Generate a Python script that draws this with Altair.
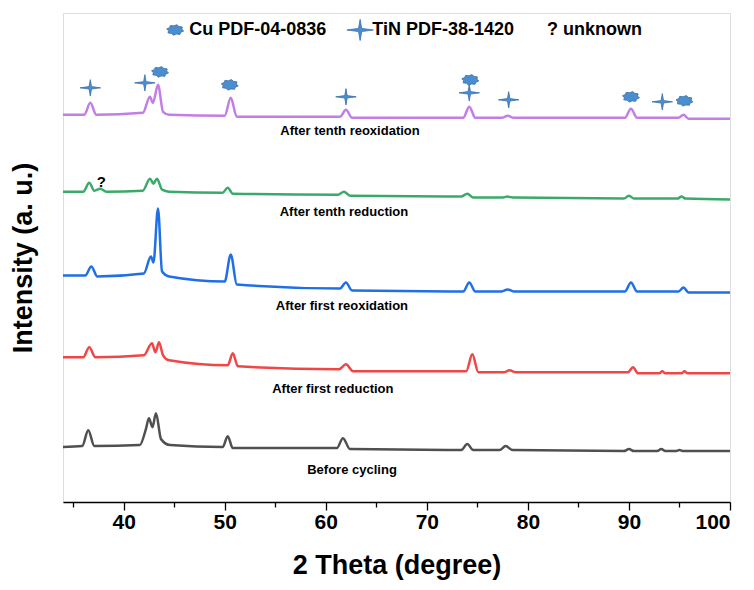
import altair as alt
import pandas as pd
import math

# ---------------- data ----------------
trace_names = ["Before cycling", "After first reduction", "After first reoxidation",
               "After tenth reduction", "After tenth reoxidation"]
trace_colors = ["#505050", "#f04646", "#1f6fe6", "#3aaa6a", "#c27ee6"]

x_before = [34, 35.9, 36.5, 37.1, 41.6, 42.2, 42.5, 42.85, 43.2, 43.7, 44.6, 49.8, 50.3, 50.8,
            61.1, 61.7, 62.4, 73.4, 74.0, 74.6, 77.2, 77.8, 78.5, 89.5, 90.0, 90.5,
            92.8, 93.2, 93.6, 94.6, 95.0, 95.4, 100]
i_before = [55, 56, 72, 56, 57, 73, 84, 75, 89, 63, 57, 55, 66, 54,
            54, 64, 53, 52, 58, 52, 52, 56, 52, 51, 53, 51,
            51, 53, 51, 51, 52, 51, 51]

x_red1 = [34, 36.0, 36.6, 37.2, 42.0, 42.8, 43.15, 43.5, 43.9, 44.5, 50.3, 50.8, 51.3,
          61.3, 62.0, 62.7, 73.9, 74.5, 75.1, 77.6, 78.2, 78.8, 89.9, 90.4, 90.9,
          93.0, 93.3, 93.6, 95.2, 95.5, 95.8, 100]
i_red1 = [145, 145, 155, 145, 147, 159, 150, 160, 147, 142, 137, 149, 136,
          133, 138, 131, 131, 148, 130, 130, 132, 130, 130, 135, 129,
          129, 131, 129, 129, 131, 129, 129]

x_reox1 = [34, 36.2, 36.8, 37.4, 42.0, 42.7, 42.95, 43.4, 43.8, 44.5, 50.0, 50.6, 51.2,
           61.4, 62.0, 62.6, 73.6, 74.2, 74.8, 77.4, 78.0, 78.6, 89.6, 90.2, 90.8,
           94.9, 95.4, 95.9, 100]
i_reox1 = [227, 227, 236, 226, 229, 246, 240, 294, 231, 226, 221, 248, 218,
           214, 220, 212, 211, 220, 211, 211, 213, 211, 211, 220, 211,
           211, 215, 210, 210]

x_red10 = [34, 36.0, 36.6, 37.1, 37.7, 38.3, 41.9, 42.6, 42.95, 43.3, 43.8, 44.5, 49.8, 50.3, 50.8,
           61.2, 61.8, 62.4, 73.4, 74.0, 74.6, 77.4, 78.0, 78.6, 89.5, 90.0, 90.5,
           94.8, 95.2, 95.6, 100]
i_red10 = [311, 311, 320, 312, 314, 311, 312, 324, 319, 324, 313, 311, 310, 315, 309,
           308, 311, 307, 306, 309, 305, 305, 306, 305, 304, 307, 304,
           304, 306, 304, 303]

x_reox10 = [34, 36.1, 36.7, 37.3, 41.9, 42.6, 42.9, 43.4, 43.9, 44.5, 50.0, 50.6, 51.2,
            61.4, 62.0, 62.6, 73.6, 74.2, 74.8, 77.4, 78.0, 78.6, 89.6, 90.2, 90.8,
            94.9, 95.4, 95.9, 100]
i_reox10 = [388, 388, 400, 388, 390, 406, 400, 418, 391, 388, 387, 405, 386,
            386, 393, 385, 385, 396, 385, 385, 387, 385, 385, 394, 385,
            385, 388, 384, 384]

# trace labels
label_x = [62.6, 60.7, 61.6, 61.8, 62.4]
label_y = [32, 113, 196, 291, 372]

# phase markers
cu_x = [43.6, 50.5, 74.3, 90.2, 95.5]
cu_y = [431, 418, 423, 406, 402]
tin_x = [36.7, 42.1, 62.0, 74.2, 78.1, 93.3]
tin_y = [415, 420, 406, 410, 403, 401]
unknown_x = [37.8]
unknown_y = [321]

# legend
legend_sym_x = [45.1, 63.4]
legend_text_x = [46.5, 64.6, 81.9]
legend_texts = ["Cu PDF-04-0836", "TiN PDF-38-1420", "?  unknown"]
legend_y = 473

x_ticks = [35, 40, 45, 50, 55, 60, 65, 70, 75, 80, 85, 90, 95, 100]

# ---------------- build tables ----------------
xs = [x_before, x_red1, x_reox1, x_red10, x_reox10]
ys = [i_before, i_red1, i_reox1, i_red10, i_reox10]
rows = []
for name, xl, yl in zip(trace_names, xs, ys):
    for a, b in zip(xl, yl):
        rows.append({"trace": name, "theta": a, "intensity": b})
df = pd.DataFrame(rows)

df_labels = pd.DataFrame({"trace": trace_names, "x": label_x, "y": label_y})
df_cu = pd.DataFrame({"x": cu_x, "y": cu_y})
df_tin = pd.DataFrame({"x": tin_x, "y": tin_y})
df_unk = pd.DataFrame({"x": unknown_x, "y": unknown_y, "t": ["?"]})
df_leg_cu = pd.DataFrame({"x": [legend_sym_x[0]], "y": [legend_y]})
df_leg_tin = pd.DataFrame({"x": [legend_sym_x[1]], "y": [legend_y]})
df_leg_text = pd.DataFrame({"x": legend_text_x, "y": [legend_y] * 3, "t": legend_texts})

# marker shapes (unit paths)
pts = []
for k in range(16):
    r = 1.0 if k % 2 == 0 else 0.78
    a = math.pi * k / 8 + math.pi / 16
    pts.append((r * math.cos(a), 0.62 * r * math.sin(a)))
cu_path = "M" + " L".join(f"{px:.3f},{py:.3f}" for px, py in pts) + " Z"
tin_path = "M0,-0.8 L0.12,-0.12 L1,0 L0.12,0.12 L0,0.8 L-0.12,0.12 L-1,0 L-0.12,-0.12 Z"

FONT_N = "Liberation Sans Narrow, Liberation Sans, Arial"
FONT = "Liberation Sans, Arial"
MARK_FILL = "#4a8ed0"
MARK_STROKE = "#3a6fa8"

xscale = alt.Scale(domain=[34, 100], nice=False, zero=False)
yscale = alt.Scale(domain=[0, 490], nice=False, zero=False)

x_axis = alt.Axis(
    values=x_ticks,
    labelExpr="datum.value % 10 === 0 ? datum.label : ''",
    tickSize={"condition": {"test": "datum.value % 10 === 0", "value": 8}, "value": 5},
    tickColor="black", tickWidth=1.3, domainColor="black", domainWidth=1.5,
    labelFont=FONT_N, labelFontSize=21, labelFontWeight="bold", labelColor="black",
    labelPadding=1, grid=False,
    title="2 Theta (degree)", titleFont=FONT_N, titleFontSize=27, titleFontWeight="bold",
    titleColor="black", titlePadding=20,
)
y_axis = alt.Axis(
    labels=False, ticks=False, domain=False, grid=False,
    title="Intensity (a. u.)", titleFont=FONT, titleFontSize=27, titleFontWeight="bold",
    titleColor="black", titlePadding=26,
)

lines = alt.Chart(df).mark_line(strokeWidth=2.5, interpolate="monotone").encode(
    x=alt.X("theta:Q", scale=xscale, axis=x_axis),
    y=alt.Y("intensity:Q", scale=yscale, axis=y_axis),
    color=alt.Color("trace:N", scale=alt.Scale(domain=trace_names, range=trace_colors), legend=None),
    detail="trace:N",
)

labels = alt.Chart(df_labels).mark_text(font=FONT_N, fontSize=13, fontWeight="bold",
                                        color="black", align="center", baseline="middle").encode(
    x=alt.X("x:Q", scale=xscale), y=alt.Y("y:Q", scale=yscale), text="trace:N")

cu = alt.Chart(df_cu).mark_point(shape=cu_path, size=300, filled=True, fill=MARK_FILL,
                                 stroke=MARK_STROKE, strokeWidth=0.8, opacity=1).encode(
    x=alt.X("x:Q", scale=xscale), y=alt.Y("y:Q", scale=yscale))
tin = alt.Chart(df_tin).mark_point(shape=tin_path, size=420, filled=True, fill=MARK_FILL,
                                   stroke=MARK_STROKE, strokeWidth=0.8, opacity=1).encode(
    x=alt.X("x:Q", scale=xscale), y=alt.Y("y:Q", scale=yscale))
unk = alt.Chart(df_unk).mark_text(font=FONT, fontSize=15, fontWeight="bold", color="black").encode(
    x=alt.X("x:Q", scale=xscale), y=alt.Y("y:Q", scale=yscale), text="t:N")

leg_cu = alt.Chart(df_leg_cu).mark_point(shape=cu_path, size=300, filled=True, fill=MARK_FILL,
                                         stroke=MARK_STROKE, strokeWidth=0.8, opacity=1).encode(
    x=alt.X("x:Q", scale=xscale), y=alt.Y("y:Q", scale=yscale))
leg_tin = alt.Chart(df_leg_tin).mark_point(shape=tin_path, size=700, filled=True, fill=MARK_FILL,
                                           stroke=MARK_STROKE, strokeWidth=0.8, opacity=1).encode(
    x=alt.X("x:Q", scale=xscale), y=alt.Y("y:Q", scale=yscale))
leg_text = alt.Chart(df_leg_text).mark_text(font=FONT, fontSize=18, fontWeight="bold", color="black",
                                            align="left", baseline="middle").encode(
    x=alt.X("x:Q", scale=xscale), y=alt.Y("y:Q", scale=yscale), text="t:N")

chart = alt.layer(lines, labels, cu, tin, unk, leg_cu, leg_tin, leg_text).properties(
    width=667, height=489,
    autosize=alt.AutoSizeParams(type="none"),
    padding={"left": 55, "top": 5, "right": 14, "bottom": 80},
).configure_view(stroke="black", strokeWidth=1.5).configure(background="white")

chart.save("out.html", embed_options={"renderer": "svg", "actions": False})
